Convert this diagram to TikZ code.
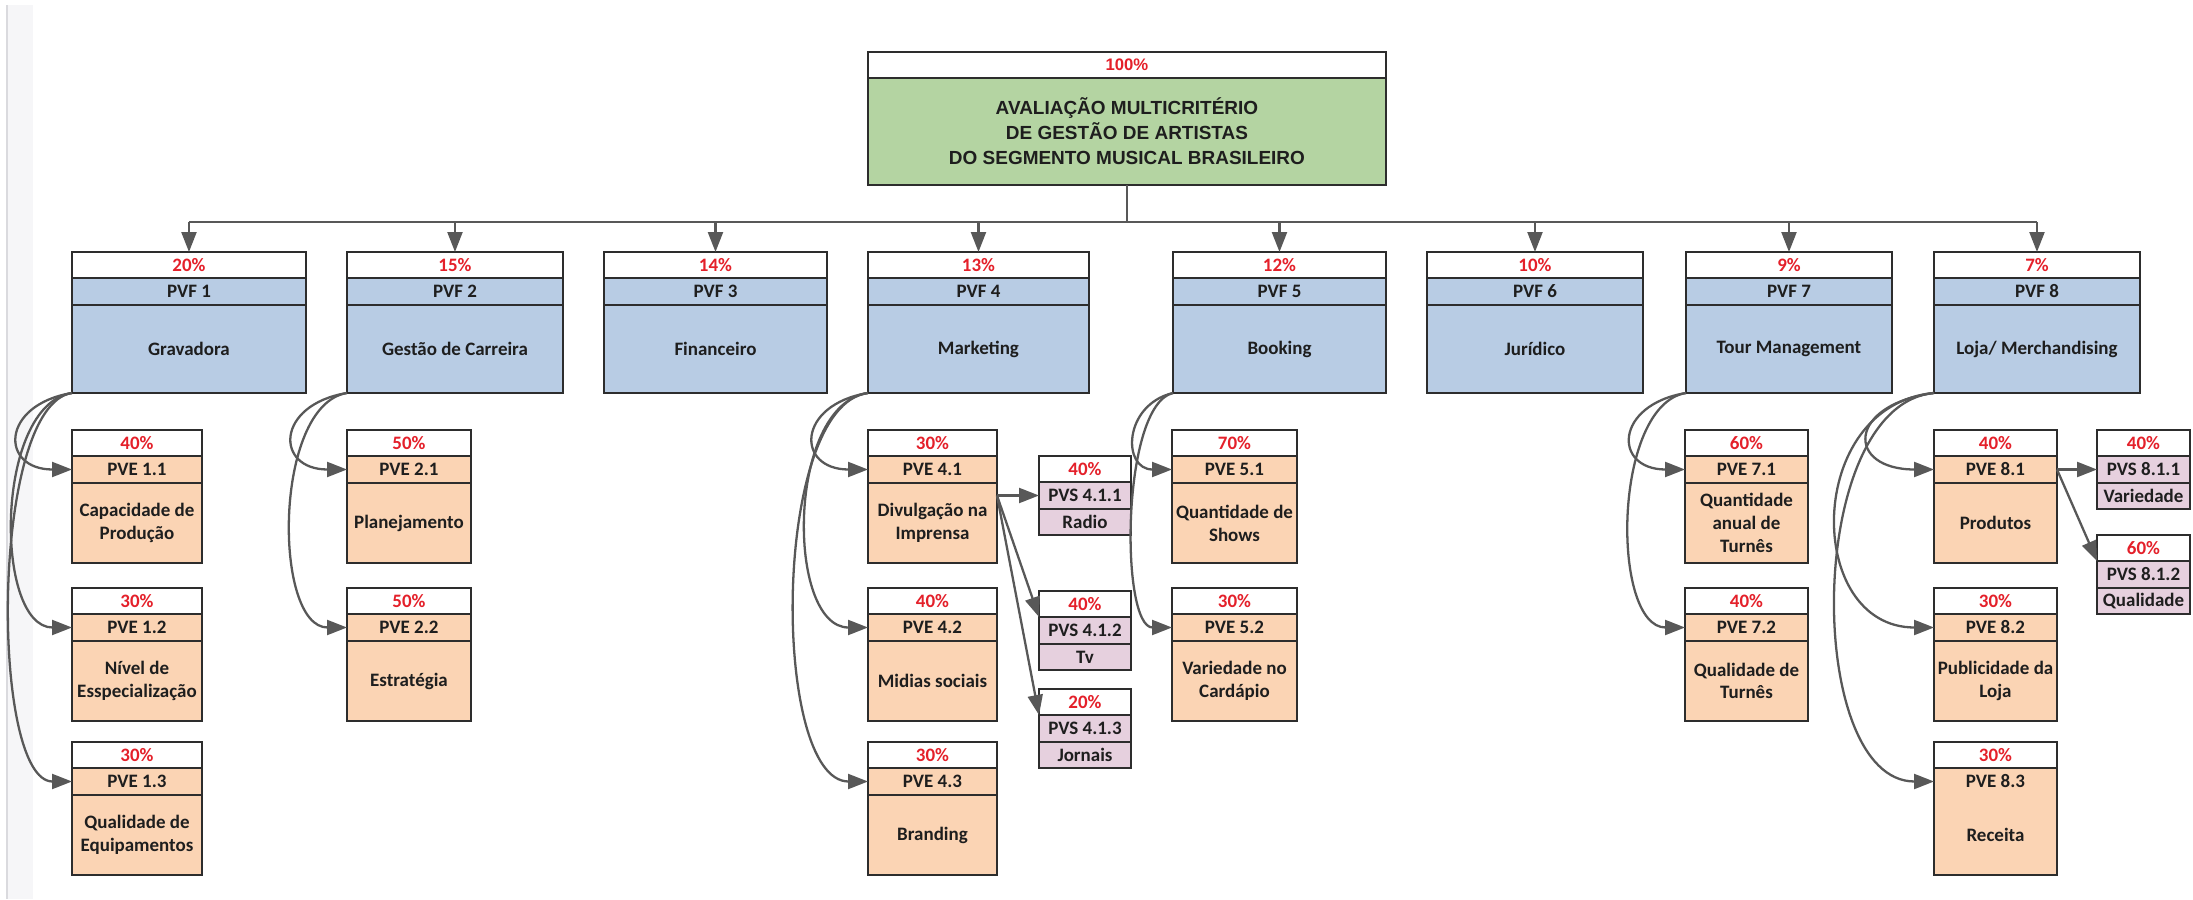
\documentclass[tikz,border=0pt]{standalone}
\usepackage{fontspec}
\setmainfont{Carlito}
\newfontfamily\arialfont{Liberation Sans}
\usetikzlibrary{arrows.meta, positioning}
\definecolor{pvfblue}{RGB}{184,204,228}
\definecolor{pvepeach}{RGB}{251,212,180}
\definecolor{pvspink}{RGB}{230,208,222}
\definecolor{goalgreen}{RGB}{180,212,162}
\definecolor{pctred}{RGB}{228,32,42}
\definecolor{boxline}{RGB}{45,45,45}
\definecolor{linkgray}{RGB}{88,88,88}
\definecolor{textdark}{RGB}{30,30,30}
\definecolor{stripgray}{RGB}{246,246,248}
\definecolor{stripline}{RGB}{218,218,222}
\tikzset{
  cell/.style={rectangle, draw=boxline, line width=1pt, inner sep=0pt,
    outer sep=0pt, align=center, text=textdark,
    font=\fontsize{10.8}{13}\selectfont\bfseries},
  pctcell/.style={cell, fill=white, text=pctred, minimum height=0.52cm,
    anchor=north west},
  pvf/.style={cell, fill=pvfblue},
  pve/.style={cell, fill=pvepeach},
  pvs/.style={cell, fill=pvspink},
  goalfont/.style={font=\arialfont\fontsize{10.8}{14.2}\selectfont\bfseries},
  link/.style={draw=linkgray, line width=1.3pt,
    -{Triangle[length=0.4cm, width=0.3cm]}},
  trunk/.style={draw=linkgray, line width=1.3pt},
}
% weight row, code row and description row stacked
\newcommand{\critbox}[8]{%
  \node[pctcell, minimum width=#4] (#1w) at #3 {#6};
  \node[#2, minimum width=#4, minimum height=0.54cm, below=0pt of #1w] (#1c) {#7};
  \node[#2, minimum width=#4, minimum height=#5, below=0pt of #1c] (#1) {#8};
}

\begin{document}
\begin{tikzpicture}[x=0.02cm, y=-0.02cm]
  \useasboundingbox (0,0) rectangle (2193,899);
  % page edge strip
  \fill[stripgray] (7,5) rectangle (33,899);
  \draw[stripline, line width=1pt] (7,5) -- (7,899);

  % Goal
  \node[pctcell, goalfont, text=pctred, minimum width=10.36cm] (goalw) at (868,52)
    {\fontsize{9.5}{11}\selectfont 100\%};
  \node[cell, goalfont, fill=goalgreen, minimum width=10.36cm, minimum height=2.14cm,
    below=0pt of goalw] (goal)
    {AVALIAÇÃO MULTICRITÉRIO\\DE GESTÃO DE ARTISTAS\\DO SEGMENTO MUSICAL BRASILEIRO};

  % Fundamental points of view
  \critbox{f1}{pvf}{(72,252)}{4.68cm}{1.76cm}{20\%}{PVF 1}{Gravadora}
  \critbox{f2}{pvf}{(347,252)}{4.32cm}{1.76cm}{15\%}{PVF 2}{Gestão de Carreira}
  \critbox{f3}{pvf}{(604,252)}{4.46cm}{1.76cm}{14\%}{PVF 3}{Financeiro}
  \critbox{f4}{pvf}{(868,252)}{4.42cm}{1.76cm}{13\%}{PVF 4}{Marketing}
  \critbox{f5}{pvf}{(1173,252)}{4.26cm}{1.76cm}{12\%}{PVF 5}{Booking}
  \critbox{f6}{pvf}{(1427,252)}{4.32cm}{1.76cm}{10\%}{PVF 6}{Jurídico}
  \critbox{f7}{pvf}{(1686,252)}{4.12cm}{1.76cm}{9\%}{PVF 7}{Tour Management}
  \critbox{f8}{pvf}{(1934,252)}{4.12cm}{1.76cm}{7\%}{PVF 8}{Loja/ Merchandising}

  % Elementary points of view
  \critbox{e11}{pve}{(72,430)}{2.6cm}{1.6cm}{40\%}{PVE 1.1}{Capacidade de\\Produção}
  \critbox{e12}{pve}{(72,588)}{2.6cm}{1.6cm}{30\%}{PVE 1.2}{Nível de\\Esspecialização}
  \critbox{e13}{pve}{(72,742)}{2.6cm}{1.6cm}{30\%}{PVE 1.3}{Qualidade de\\Equipamentos}
  \critbox{e21}{pve}{(347,430)}{2.48cm}{1.6cm}{50\%}{PVE 2.1}{Planejamento}
  \critbox{e22}{pve}{(347,588)}{2.48cm}{1.6cm}{50\%}{PVE 2.2}{Estratégia}
  \critbox{e41}{pve}{(868,430)}{2.58cm}{1.6cm}{30\%}{PVE 4.1}{Divulgação na\\Imprensa}
  \critbox{e42}{pve}{(868,588)}{2.58cm}{1.6cm}{40\%}{PVE 4.2}{Midias sociais}
  \critbox{e43}{pve}{(868,742)}{2.58cm}{1.6cm}{30\%}{PVE 4.3}{Branding}
  \critbox{e51}{pve}{(1172,430)}{2.5cm}{1.6cm}{70\%}{PVE 5.1}{Quantidade de\\Shows}
  \critbox{e52}{pve}{(1172,588)}{2.5cm}{1.6cm}{30\%}{PVE 5.2}{Variedade no\\Cardápio}
  \critbox{e71}{pve}{(1685,430)}{2.46cm}{1.6cm}{60\%}{PVE 7.1}{Quantidade\\anual de\\Turnês}
  \critbox{e72}{pve}{(1685,588)}{2.46cm}{1.6cm}{40\%}{PVE 7.2}{Qualidade de\\Turnês}
  \critbox{e81}{pve}{(1934,430)}{2.46cm}{1.6cm}{40\%}{PVE 8.1}{Produtos}
  \critbox{e82}{pve}{(1934,588)}{2.46cm}{1.6cm}{30\%}{PVE 8.2}{Publicidade da\\Loja}
  \critbox{e83}{pve, draw=none}{(1934,742)}{2.46cm}{1.6cm}{30\%}{PVE 8.3}{Receita}
  \draw[boxline, line width=1pt] (e83c.north west) rectangle (e83.south east);

  % Sub points of view
  \critbox{s411}{pvs}{(1039,456)}{1.84cm}{0.52cm}{40\%}{PVS 4.1.1}{Radio}
  \critbox{s412}{pvs}{(1039,591)}{1.84cm}{0.52cm}{40\%}{PVS 4.1.2}{Tv}
  \critbox{s413}{pvs}{(1039,689)}{1.84cm}{0.52cm}{20\%}{PVS 4.1.3}{Jornais}
  \critbox{s811}{pvs}{(2097,430)}{1.86cm}{0.52cm}{40\%}{PVS 8.1.1}{Variedade}
  \critbox{s812}{pvs}{(2097,535)}{1.86cm}{0.52cm}{60\%}{PVS 8.1.2}{Qualidade}

  % Goal to PVF
  \coordinate (bus) at (0,222);
  \draw[trunk] (goal.south) -- (goal.south |- bus);
  \draw[trunk] (f1w.north |- bus) -- (f8w.north |- bus);
  \foreach \n in {1,...,8}
    \draw[link] (f\n w.north |- bus) -- (f\n w.north);

  % PVF to PVE
  \foreach \src/\dst/\d in {f1/e11c/72, f1/e12c/78, f1/e13c/82, f2/e21c/72,
      f2/e22c/74, f4/e41c/72, f4/e42c/82, f4/e43c/97, f5/e51c/50, f5/e52c/52,
      f7/e71c/72, f7/e72c/74, f8/e81c/88, f8/e82c/130, f8/e83c/130}
    \draw[link] (\src.south west) .. controls +(-\d,12) and +(-\d,0) .. (\dst.west);

  % PVE to PVS
  \draw[link] (e41.east |- s411c.west) -- (s411c.west);
  \draw[link] (e41.east |- s411c.west) -- (s412c.north west);
  \draw[link] (e41.east |- s411c.west) -- (s413c.north west);
  \draw[link] (e81c.east) -- (s811c.west);
  \draw[link] (e81c.east) -- (s812c.north west);
\end{tikzpicture}
\end{document}
